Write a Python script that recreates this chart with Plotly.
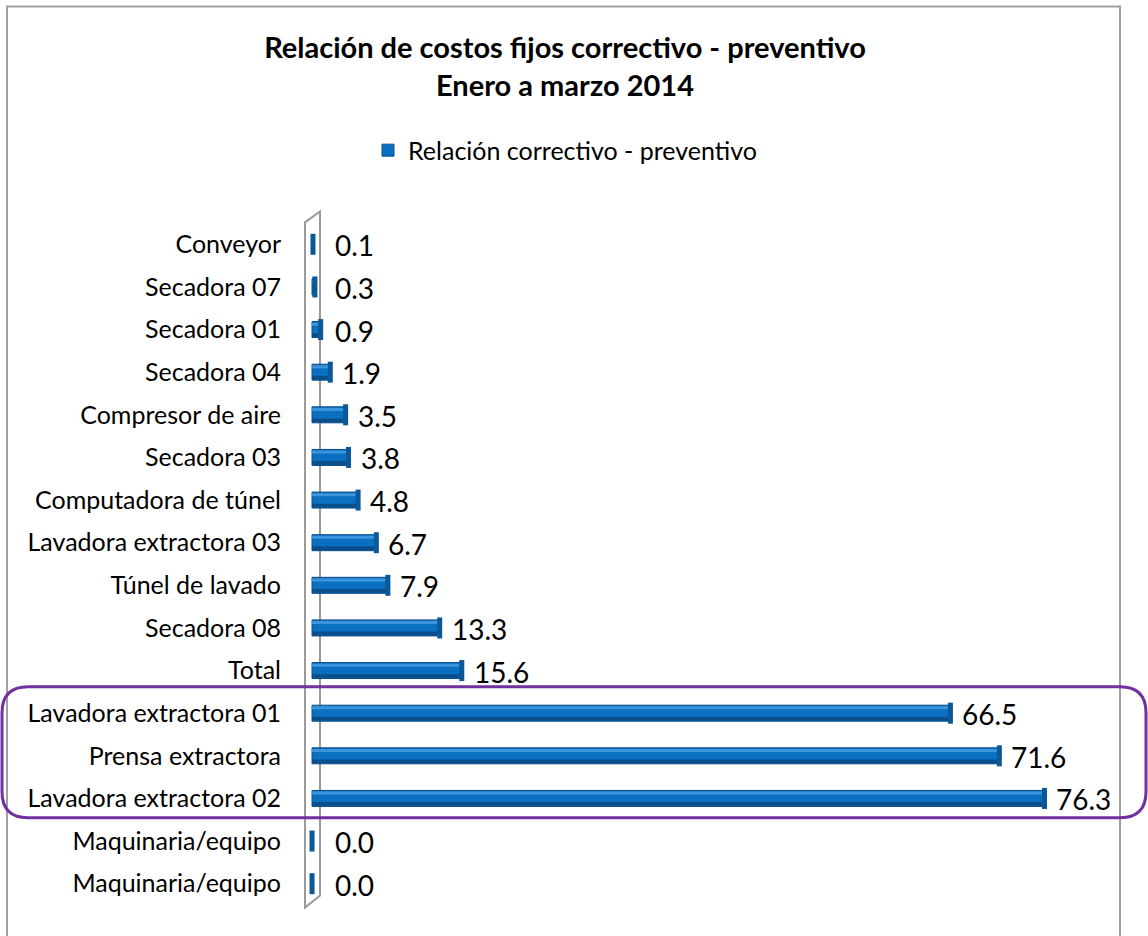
import plotly.graph_objects as go

categories = ["Conveyor", "Secadora 07", "Secadora 01", "Secadora 04", "Compresor de aire",
              "Secadora 03", "Computadora de túnel", "Lavadora extractora 03", "Túnel de lavado",
              "Secadora 08", "Total", "Lavadora extractora 01", "Prensa extractora",
              "Lavadora extractora 02", "Maquinaria/equipo", "Maquinaria/equipo"]
values = [0.1, 0.3, 0.9, 1.9, 3.5, 3.8, 4.8, 6.7, 7.9, 13.3, 15.6, 66.5, 71.6, 76.3, 0.0, 0.0]
value_labels = ["0.1", "0.3", "0.9", "1.9", "3.5", "3.8", "4.8", "6.7", "7.9", "13.3", "15.6",
                "66.5", "71.6", "76.3", "0.0", "0.0"]
series_name = "Relación correctivo - preventivo"
title_lines = ["Relación de costos fijos correctivo - preventivo", "Enero a marzo 2014"]

# layout geometry (pixels)
W, H = 1148, 936
L, R = 284, 1120
n = len(categories)
row = 42.67
T = 244 - row / 2
B = T + row * n
x0, x1 = -2.92, (R - 312) / 9.6
FONT = "Lato, 'Open Sans', sans-serif"

def px_x(p):
    return (p - L) / (R - L)

def px_y(p):
    return (B - p) / (B - T)

pos = list(range(n))
fig = go.Figure()
# main cylinder body
fig.add_trace(go.Bar(
    y=pos, x=values, orientation="h", name=series_name, width=0.375, offset=-0.1875,
    marker=dict(color="#0A70C2", line=dict(color="#0B4C86", width=1)),
    showlegend=True,
))
# top highlight
fig.add_trace(go.Bar(
    y=pos, x=values, orientation="h", width=0.07, offset=-0.16, showlegend=False,
    hoverinfo="skip", marker=dict(color="#3C95DC", line=dict(width=0)),
))
# bottom shade
fig.add_trace(go.Bar(
    y=pos, x=values, orientation="h", width=0.09, offset=0.085, showlegend=False,
    hoverinfo="skip", marker=dict(color="#0A4E8C", line=dict(width=0)),
))
# cylinder end caps
fig.add_trace(go.Scatter(
    y=pos, x=values, mode="markers", showlegend=False, hoverinfo="skip",
    marker=dict(symbol="line-ns-open", size=15, color="#0B5797",
                line=dict(color="#0B5797", width=5)),
))
for yi, v, lab in zip(pos, values, value_labels):
    fig.add_annotation(x=v, y=yi, text=lab, showarrow=False, xanchor="left",
                       xshift=max(10, 21 - v * 9.6), yshift=-1,
                       font=dict(family=FONT, size=28, color="#000"))

shapes = []
# outer chart frame
shapes.append(dict(type="path", xref="paper", yref="paper",
                   path=f"M {px_x(7)} {px_y(960)} L {px_x(7)} {px_y(6)} L {px_x(1120)} {px_y(6)} L {px_x(1120)} {px_y(960)}",
                   line=dict(color="#A0A0A0", width=2)))
# 3D wall
shapes.append(dict(type="path", xref="paper", yref="paper", layer="below",
                   path=(f"M {px_x(305)} {px_y(908)} L {px_x(305)} {px_y(222)} L {px_x(320)} {px_y(211)} "
                         f"L {px_x(320)} {px_y(896)} Z"),
                   line=dict(color="#9A9A9A", width=2), fillcolor="rgba(0,0,0,0)"))
# purple highlight rounded rectangle
xa, xb, ya, yb, r = 2, 1146, 687, 818, 26
pth = (f"M {px_x(xa + r)} {px_y(ya)} L {px_x(xb - r)} {px_y(ya)} "
       f"Q {px_x(xb)} {px_y(ya)} {px_x(xb)} {px_y(ya + r)} "
       f"L {px_x(xb)} {px_y(yb - r)} Q {px_x(xb)} {px_y(yb)} {px_x(xb - r)} {px_y(yb)} "
       f"L {px_x(xa + r)} {px_y(yb)} Q {px_x(xa)} {px_y(yb)} {px_x(xa)} {px_y(yb - r)} "
       f"L {px_x(xa)} {px_y(ya + r)} Q {px_x(xa)} {px_y(ya)} {px_x(xa + r)} {px_y(ya)} Z")
shapes.append(dict(type="path", xref="paper", yref="paper", path=pth,
                   line=dict(color="#7030A0", width=3), fillcolor="rgba(0,0,0,0)"))

fig.update_layout(
    width=W, height=H,
    margin=dict(l=L, r=W - R, t=T, b=H - B, pad=0),
    paper_bgcolor="white", plot_bgcolor="white",
    barmode="overlay",
    title=dict(text="<b>" + "<br>".join(title_lines) + "</b>",
               x=px_x(565), xref="paper", xanchor="center", y=1 - 58 / H, yanchor="top",
               font=dict(family=FONT, size=29, color="#000")),
    legend=dict(orientation="h", x=px_x(565), xanchor="center", y=px_y(150), yanchor="middle",
                font=dict(family=FONT, size=25, color="#000"), itemwidth=30),
    xaxis=dict(range=[x0, x1], showgrid=False, zeroline=False, showticklabels=False,
               showline=False, ticks=""),
    yaxis=dict(range=[n - 0.5, -0.5], tickmode="array", tickvals=pos, ticktext=categories,
               showgrid=False, zeroline=False, showline=False, ticks="",
               tickfont=dict(family=FONT, size=25, color="#000"), ticklabelstandoff=2),
    shapes=shapes,
)
fig.write_html("out.html")
